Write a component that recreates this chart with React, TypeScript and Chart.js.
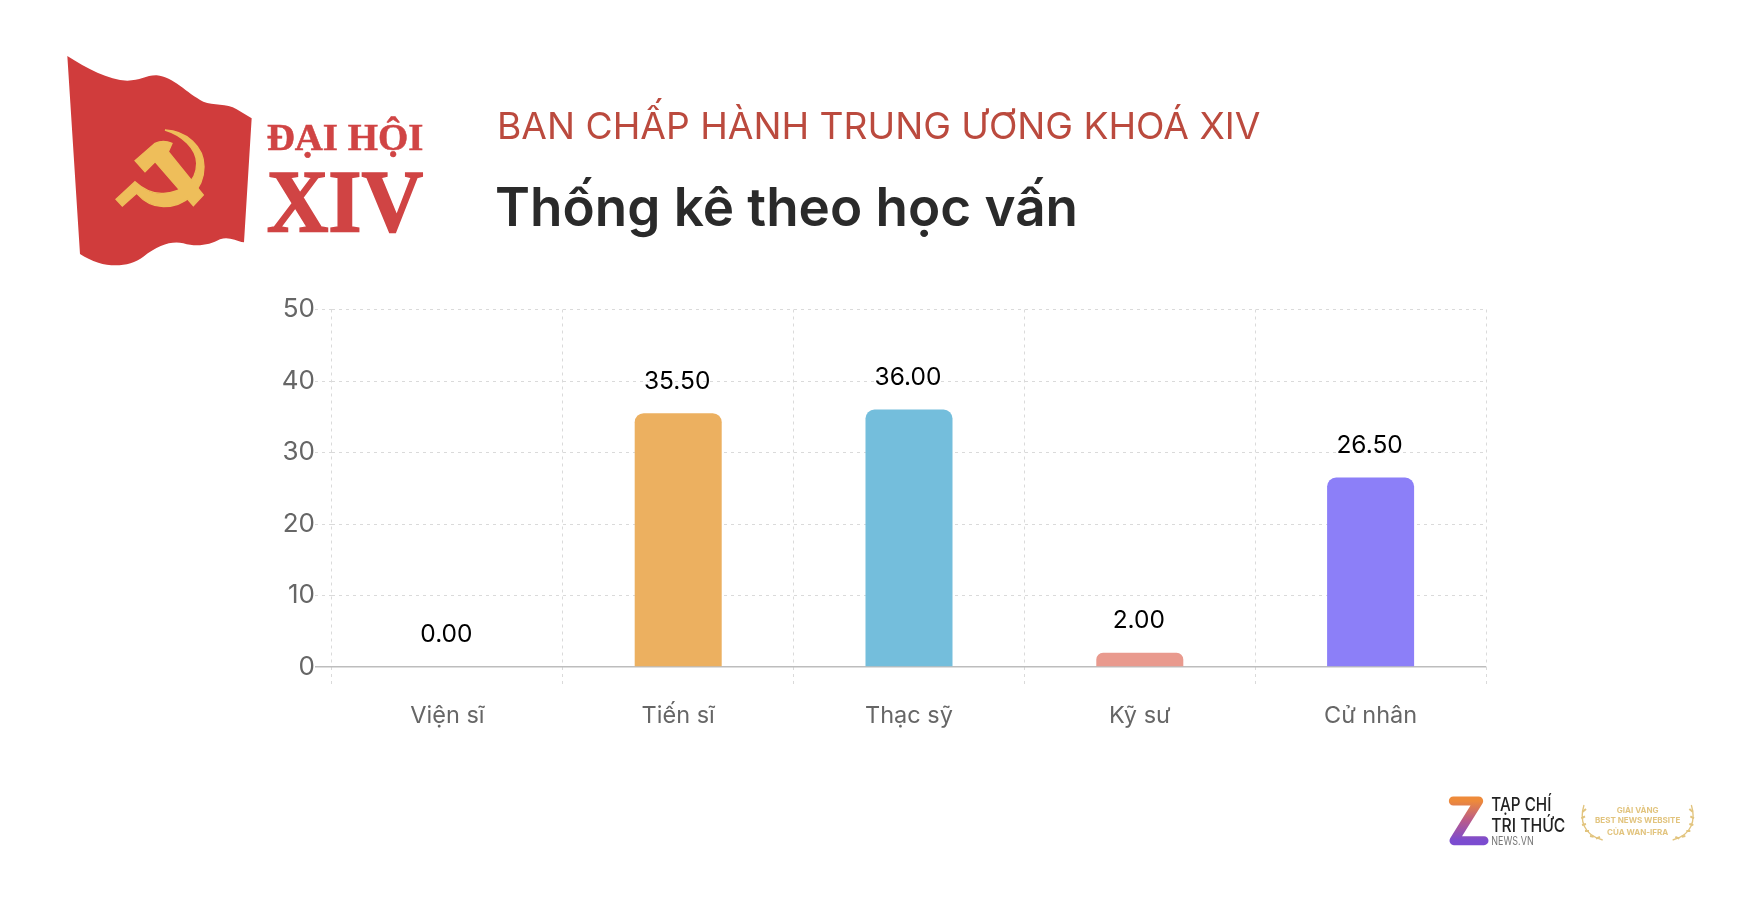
import React, { useEffect, useRef } from "react";
import { Chart, registerables } from "chart.js";

Chart.register(...registerables);

const categories = ["Viện sĩ", "Tiến sĩ", "Thạc sỹ", "Kỹ sư", "Cử nhân"];
const values = [0, 35.5, 36, 2, 26.5];
const barColors = ["#ECB060", "#ECB060", "#74BEDC", "#E99A8E", "#8C7FF8"];
const yTicks = [0, 10, 20, 30, 40, 50];

const FONT = "Inter, 'Noto Sans', sans-serif";
const SERIF = "'Liberation Serif', serif";

const valueLabels = {
  id: "valueLabels",
  afterDatasetsDraw(chart: any) {
    const ctx = chart.ctx;
    const meta = chart.getDatasetMeta(0);
    ctx.save();
    ctx.font = `400 24.5px ${FONT}`;
    ctx.fillStyle = "#000";
    ctx.textAlign = "center";
    ctx.textBaseline = "middle";
    meta.data.forEach((el: any, i: number) => {
      ctx.fillText(values[i].toFixed(2), el.x - 1, el.y - 32);
    });
    ctx.restore();
  },
};

function Flag() {
  return (
    <svg width={420} height={250} viewBox="0 0 1260 750" style={{ position: "absolute", left: 40, top: 30 }}>
      <path
        fill="#D03C3C"
        d="M82 78 C140 115 205 150 262 152 C300 152 320 135 350 136 C400 140 440 190 490 215 C520 228 560 218 590 238 L635 265 L612 637 C585 632 565 618 540 628 C510 645 470 652 430 640 C395 632 355 645 310 680 C275 708 220 712 175 698 C155 692 135 682 120 672 Z"
      />
      <path
        fill="#EEBE5A"
        stroke="#EEBE5A"
        strokeWidth={4}
        d="M375 300 C440 303 492 350 492 410 C492 480 435 530 370 530 C340 530 312 515 290 490 L247 528 L228 508 L285 455 C310 478 335 492 370 490 C420 488 470 460 470 400 C470 355 425 315 375 300 Z"
      />
      <path
        fill="#EEBE5A"
        stroke="#EEBE5A"
        strokeWidth={4}
        d="M285 392 L345 340 C362 332 380 333 396 340 L385 365 L490 495 L460 527 L345 395 L315 425 Z"
      />
      <text x={680} y={360} fontFamily={SERIF} fontWeight={700} fontSize={112} fill="#D04444" stroke="#D04444" strokeWidth={1.5} textLength={470} lengthAdjust="spacingAndGlyphs">ĐẠI HỘI</text>
      <text x={680} y={602} fontFamily={SERIF} fontWeight={700} fontSize={264} fill="#D04444" stroke="#D04444" strokeWidth={5} textLength={470} lengthAdjust="spacingAndGlyphs">XIV</text>
    </svg>
  );
}

function Footer() {
  const laurel = (flip: boolean) => (
    <g transform={flip ? "translate(1306 0) scale(-1 1)" : undefined} fill="none" stroke="#E2C47E" strokeWidth={4}>
      <path d="M492 105 C478 150 490 195 548 210" />
      <path d="M488 125 l10 -8 M484 145 l11 -6 M486 165 l12 -3 M495 183 l12 0 M510 198 l11 2 M528 206 l12 -5" strokeWidth={6} />
    </g>
  );
  return (
    <svg width={300} height={90} viewBox="0 0 900 270" style={{ position: "absolute", left: 1420, top: 770 }}>
      <defs>
        <linearGradient id="zg" x1="0.5" y1="0" x2="0.5" y2="1">
          <stop offset="0" stopColor="#EE8A3A" />
          <stop offset="0.5" stopColor="#B85A8C" />
          <stop offset="1" stopColor="#7B4CD0" />
        </linearGradient>
      </defs>
      <path
        d="M100 93 L176 93 L102 212 L192 212"
        fill="none"
        stroke="url(#zg)"
        strokeWidth={27}
        strokeLinejoin="round"
        strokeLinecap="round"
      />
      <text x={214} y={122} fontFamily={FONT} fontWeight={500} fontSize={56} fill="#222" textLength={180} lengthAdjust="spacingAndGlyphs">TẠP CHÍ</text>
      <text x={214} y={186} fontFamily={FONT} fontWeight={500} fontSize={56} fill="#222" textLength={222} lengthAdjust="spacingAndGlyphs">TRI THỨC</text>
      <text x={214} y={226} fontFamily={FONT} fontSize={36} fill="#777" textLength={127} lengthAdjust="spacingAndGlyphs">NEWS.VN</text>
      {laurel(false)}
      {laurel(true)}
      <g fontFamily={FONT} fontWeight={700} fill="#E2C47E" textAnchor="middle">
        <text x={653} y={128} fontSize={24}>GIẢI VÀNG</text>
        <text x={653} y={160} fontSize={24} textLength={256} lengthAdjust="spacingAndGlyphs">BEST NEWS WEBSITE</text>
        <text x={653} y={196} fontSize={24}>CỦA WAN-IFRA</text>
      </g>
    </svg>
  );
}

export default function App() {
  const ref = useRef<HTMLCanvasElement>(null);
  useEffect(() => {
    const dash = (ctx: any) => (ctx.tick && ctx.tick.value === 0 && ctx.scale.axis === "y" ? [] : [3, 4]);
    const col = (ctx: any) => (ctx.tick && ctx.tick.value === 0 && ctx.scale.axis === "y" ? "#BDBDBD" : "#DADADA");
    const wid = (ctx: any) => (ctx.tick && ctx.tick.value === 0 && ctx.scale.axis === "y" ? 1.5 : 1);
    const chart = new Chart(ref.current!, {
      type: "bar",
      data: {
        labels: categories,
        datasets: [
          {
            data: values,
            backgroundColor: barColors,
            borderRadius: { topLeft: 9, topRight: 9, bottomLeft: 0, bottomRight: 0 },
            borderSkipped: false,
            categoryPercentage: 1,
            barPercentage: 0.377,
          },
        ],
      },
      options: {
        responsive: false,
        animation: false,
        layout: { padding: { left: 0, right: 262, top: 309.5, bottom: 0 } },
        plugins: { legend: { display: false }, tooltip: { enabled: false }, title: { display: false } },
        scales: {
          x: {
            afterFit: (s: any) => {
              s.height = 239;
            },
            border: { display: false, dash: [3, 4] },
            grid: { color: "#DADADA", tickColor: "#DADADA", tickLength: 17, tickBorderDash: [3, 4], lineWidth: 1 },
            ticks: { color: "#666", font: { family: FONT, size: 23.5, weight: 400 }, padding: 18, maxRotation: 0 },
          },
          y: {
            min: 0,
            max: 50,
            afterFit: (s: any) => {
              s.width = 332;
            },
            afterBuildTicks: (s: any) => {
              s.ticks = yTicks.map((value) => ({ value }));
            },
            border: { display: false, dash },
            grid: { color: col, tickColor: col, lineWidth: wid, tickWidth: wid, tickLength: 17, tickBorderDash: dash },
            ticks: { color: "#666", font: { family: FONT, size: 26, weight: 400 }, padding: 0 },
          },
        },
      },
      plugins: [valueLabels],
    } as any);
    return () => chart.destroy();
  }, []);
  return (
    <div style={{ position: "absolute", left: 0, top: 0, width: 1748, height: 906, overflow: "hidden", background: "#fff" }}>
      <canvas ref={ref} width={1748} height={906} style={{ display: "block", position: "absolute", left: 0, top: 0 }} />
      <Flag />
      <div style={{ position: "absolute", left: 497, top: 103, fontFamily: FONT, fontWeight: 400, fontSize: 37.2, lineHeight: "46px", color: "#BB4A3E", whiteSpace: "nowrap" }}>
        BAN CHẤP HÀNH TRUNG ƯƠNG KHOÁ XIV
      </div>
      <div style={{ position: "absolute", left: 495, top: 174, fontFamily: FONT, fontWeight: 600, fontSize: 53, lineHeight: "66px", color: "#2A2A2A", whiteSpace: "nowrap" }}>
        Thống kê theo học vấn
      </div>
      <Footer />
    </div>
  );
}
